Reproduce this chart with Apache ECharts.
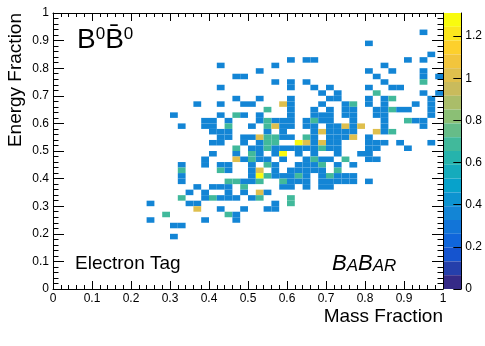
<!DOCTYPE html>
<html>
<head>
<meta charset="utf-8">
<script src="https://cdn.jsdelivr.net/npm/echarts@6/dist/echarts.min.js"></script>
<style>
  html, body { margin: 0; padding: 0; background: #fff; }
  #chart { width: 485px; height: 346px; }
</style>
</head>
<body>
<div id="chart"></div>
<script>
// 50 x 50 bins on [0,1] x [0,1]
const binWidth = 0.02
const topEnergyBin = 46
// one string per energy bin, from bin 46 down to bin 9
// one char per mass bin (0..49, groups of 10): '.' = empty, digit = entries in the cell
const energyRows = [
  '.......... .......... .......... .......... .......1..', // 46
  '.......... .......... .......... .......... ..........', // 45
  '.......... .......... .......... .......... 1.........', // 44
  '.......... .......... .......... .......... ..........', // 43
  '.......... .......... .......... .......... ........1.', // 42
  '.......... .......... .......... 1.11...... .....1.1..', // 41
  '.......... .......... .1......1. .......... ..1.......', // 40
  '.......... .......... ......1... .......... 1..1...1..', // 39
  '.......... .......... ...11..... .......... .1.....1.1', // 38
  '.......... .......... ........1. 1.1....... ..1....2..', // 37
  '.......... .......... .1........ 1..1.1.... 1..11.....', // 36
  '.......... .......... .......... ....1.1... .2.....1.1', // 35
  '.......... .......... ...1..1... 1....11... 1.12....1.', // 34
  '.......... ........1. .1..11...3 1...1..12. 1.1...1.1.', // 33
  '.......... .......... .......2.. 1..1.1.11. .11211..1.', // 32
  '.......... .....1.... .1.21.1... 1..111.11. .11.....1.', // 31
  '.......... .........1 1.1...1211 1.1211..1. ..1..211..', // 30
  '.......... ......1..1 1.2..1.231 1.11.11313 ..1....1..', // 29
  '.......... .......... 111....1.1 ...131111. .312......', // 28
  '.......... .......... .11.113221 1.21.1113. 1.........', // 27
  '.......... .......... 11..1.122. .431311... 111.1...1.', // 26
  '.......... .......... ...2.11211 1111211... 11...1....', // 25
  '.......... .......... 1..1.21.14 .1.1..1..1 1.........', // 24
  '.......... .........1 ...31211.1 ..1211.2.. 11........', // 23
  '.......... ......1..1 .11..1.21. .1112.1.1. ..........', // 22
  '.......... ......2... .21..13.1. 11111.2... ..........', // 21
  '.......... ......1... .....14211 121.12111. ..........', // 20
  '.......... ......1... ..22112..2 111.11111. 1.........', // 19
  '.......... ........1. 111.2....1 1.1.11.... ..........', // 18
  '.......... .......1.1 ..1.1.31.. .......... ..........', // 17
  '.......... ......2..1 2111.12... 2......... ..........', // 16
  '.......... ..1....11. ........1. 2......... ..........', // 15
  '.......... ........3. .1..1..11. .......... ..........', // 14
  '.......... ....2..... ..21...... .......... ..........', // 13
  '.......... ..1......1 ...1...... .......... ..........', // 12
  '.......... .....11... .......... .......... ..........', // 11
  '.......... .......... .......... .......... ..........', // 10
  '.......... .....1.... .......... .......... ..........'  // 9
]
// bin content for 1..4 entries
const entryWeight = [0, 0.33, 0.66, 0.99, 1.31]
const zMax = 1.31

const massTicks = ['0', '0.1', '0.2', '0.3', '0.4', '0.5', '0.6', '0.7', '0.8', '0.9', '1']
const energyTicks = massTicks
const zTickValues = [0, 0.2, 0.4, 0.6, 0.8, 1, 1.2]
const zTickLabels = ['0', '0.2', '0.4', '0.6', '0.8', '1', '1.2']

// ROOT kBird palette stops
const birdColors = ['#352a87', '#0f5cdd', '#1481d6', '#06a4ca', '#2eb7a4',
  '#87bf77', '#d1bb59', '#fec832', '#f9fb0e']

const cells = []
energyRows.forEach((row, r) => {
  const energyBin = topEnergyBin - r
  row.replace(/ /g, '').split('').forEach((ch, massBin) => {
    if (ch !== '.') cells.push([massBin * binWidth, energyBin * binWidth, entryWeight[+ch]])
  })
})

const font = 'Liberation Sans, Arial, Helvetica, sans-serif'
const black = '#000'

const frameAxis = (position, showLabel, tickLen, labels) => ({
  type: 'value',
  position: position,
  min: 0,
  max: 1,
  interval: 0.1,
  axisLine: { show: true, onZero: false, lineStyle: { color: black, width: 1 } },
  axisTick: { show: true, inside: true, length: tickLen, lineStyle: { color: black } },
  minorTick: { show: true, splitNumber: 5, length: tickLen / 2, lineStyle: { color: black } },
  splitLine: { show: false },
  axisLabel: {
    show: showLabel,
    color: black,
    fontSize: 12,
    fontFamily: font,
    margin: 4,
    formatter: (v) => labels[Math.round(v * 10)]
  },
  z: 5
})

const chart = echarts.init(document.getElementById('chart'))

chart.setOption({
  animation: false,
  backgroundColor: '#fff',
  grid: [
    { left: 53, top: 13, width: 390, height: 276 },
    { left: 443, top: 13, width: 19, height: 276 }
  ],
  xAxis: [
    { ...frameAxis('bottom', true, 8, massTicks), gridIndex: 0 },
    { ...frameAxis('top', false, 8, massTicks), gridIndex: 0 },
    { type: 'value', gridIndex: 1, show: false, min: 0, max: 1 }
  ],
  yAxis: [
    { ...frameAxis('left', true, 11, energyTicks), gridIndex: 0 },
    { ...frameAxis('right', false, 11, energyTicks), gridIndex: 0 },
    {
      type: 'value',
      gridIndex: 1,
      position: 'right',
      min: 0,
      max: zMax,
      axisLine: { show: true, onZero: false, lineStyle: { color: black, width: 1 } },
      axisTick: { show: true, inside: true, length: 8, customValues: zTickValues, lineStyle: { color: black } },
      splitLine: { show: false },
      axisLabel: {
        color: black,
        fontSize: 12,
        fontFamily: font,
        margin: 4,
        customValues: zTickValues,
        formatter: (v) => zTickLabels[zTickValues.findIndex(t => Math.abs(t - v) < 1e-6)]
      },
      z: 6
    }
  ],
  visualMap: {
    type: 'piecewise',
    seriesIndex: 0,
    dimension: 2,
    min: 0,
    max: zMax,
    splitNumber: 20,
    orient: 'vertical',
    left: 444,
    top: 13,
    padding: 0,
    itemWidth: 18,
    itemHeight: 13.8,
    itemGap: 0,
    itemSymbol: 'rect',
    showLabel: false,
    selectedMode: false,
    hoverLink: false,
    inRange: { color: birdColors },
    z: 1
  },
  series: [{
    type: 'custom',
    xAxisIndex: 0,
    yAxisIndex: 0,
    silent: true,
    clip: true,
    encode: { x: 0, y: 1 },
    data: cells,
    renderItem: (params, api) => {
      const a = api.coord([api.value(0), api.value(1) + binWidth])
      const b = api.coord([api.value(0) + binWidth, api.value(1)])
      return {
        type: 'rect',
        shape: { x: a[0], y: a[1], width: b[0] - a[0], height: b[1] - a[1] },
        style: { fill: api.visual('color') }
      }
    }
  }],
  graphic: [
    {
      type: 'text', left: 6, top: 13, rotation: Math.PI / 2, silent: true,
      style: { text: 'Energy Fraction', font: '19px ' + font, fill: black, textAlign: 'right', textVerticalAlign: 'top' }
    },
    {
      type: 'text', x: 443, y: 307, silent: true,
      style: { text: 'Mass Fraction', font: '19px ' + font, fill: black, textAlign: 'right', textVerticalAlign: 'top' }
    },
    {
      type: 'text', x: 75, y: 254, silent: true,
      style: { text: 'Electron Tag', font: '19px ' + font, fill: black, textAlign: 'left', textVerticalAlign: 'top' }
    },
    {
      type: 'text', x: 77, y: 26, silent: true,
      style: {
        text: '{b|B}{s|0}{b|B\u0304}{s|0}',
        textVerticalAlign: 'top',
        rich: {
          b: { fontSize: 28, fontFamily: font, color: black, lineHeight: 28 },
          s: { fontSize: 17, fontFamily: font, color: black, lineHeight: 17, verticalAlign: 'top' }
        }
      }
    },
    {
      type: 'text', x: 332, y: 253, silent: true,
      style: {
        text: '{B|B}{A|A}{B|B}{A|AR}',
        textVerticalAlign: 'top',
        rich: {
          B: { fontSize: 22, fontStyle: 'italic', fontFamily: font, color: black, lineHeight: 22, verticalAlign: 'bottom' },
          A: { fontSize: 17, fontStyle: 'italic', fontFamily: font, color: black, lineHeight: 17, verticalAlign: 'bottom' }
        }
      }
    }
  ]
})
</script>
</body>
</html>
